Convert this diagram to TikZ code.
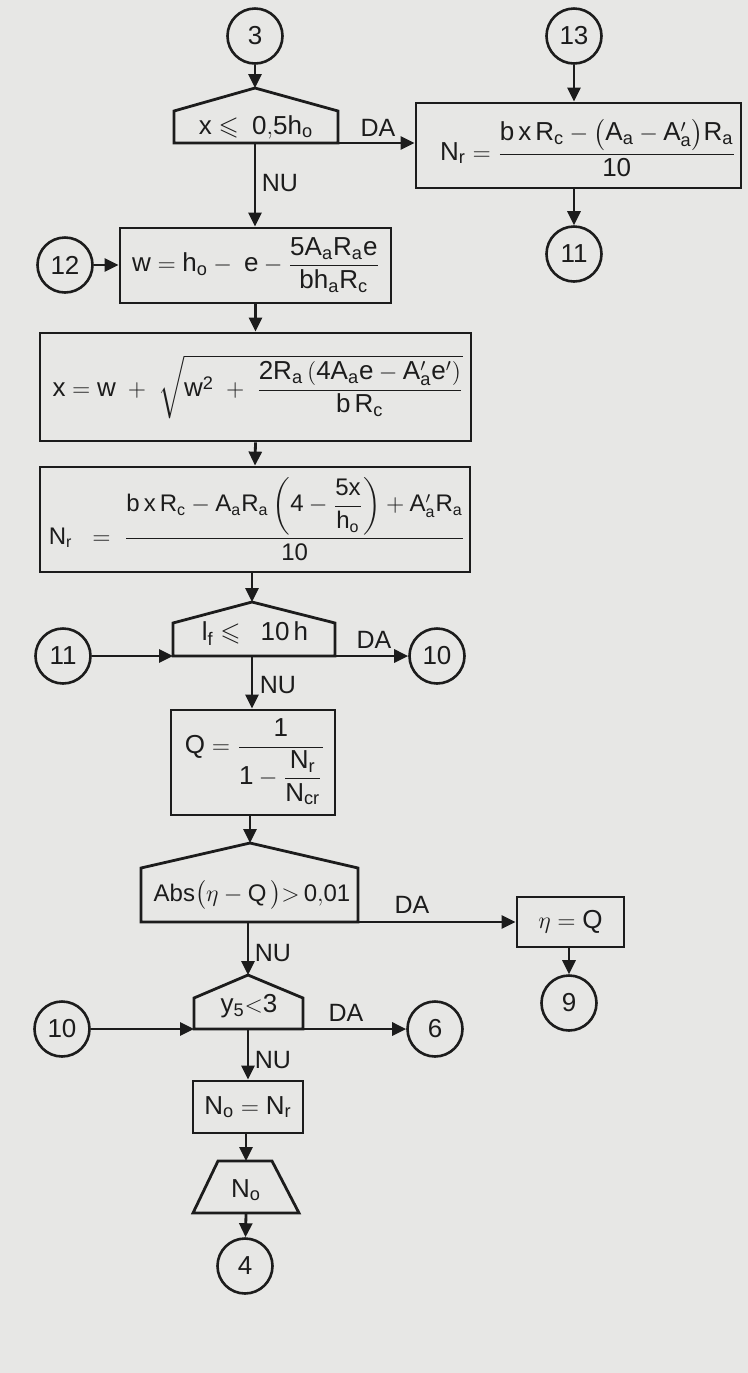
\documentclass[tikz,border=0pt]{standalone}
\usepackage{amsmath,amssymb}
\usepackage{fontspec}
\setmainfont{Liberation Sans}
\usetikzlibrary{arrows.meta}
\definecolor{paper}{RGB}{231,231,229}
\definecolor{ink}{RGB}{28,28,28}
\begin{document}
\begin{tikzpicture}[x=0.5pt,y=-0.5pt,
  every node/.style={font=\fontsize{13}{15}\selectfont, text=ink},
  ln/.style={draw=ink, line width=1.4pt},
  arr/.style={ln, -{Triangle[length=7pt,width=6.5pt]}},
  conn/.style={circle, draw=ink, line width=1.3pt, minimum size=27.5pt, inner sep=0pt, font=\fontsize{13}{15}\selectfont},
  box/.style={rectangle, draw=ink, line width=1.4pt, inner sep=0pt},
  lbl/.style={font=\fontsize{12.5}{14}\selectfont, inner sep=0pt}]

\fill[paper] (0,0) rectangle (748,1373);
\useasboundingbox (0,0) rectangle (748,1373);

% ---- top decision x <= 0.5 h_o
\node[conn] (c3) at (255,36) {3};
\coordinate (h1top) at (255,88);
\coordinate (h1bot) at (255,143);
\coordinate (h1right) at (338,143);
\draw[ln] (174,143) -- (174,111) -- (h1top) -- (338,111) -- (h1right) -- cycle;
\node (h1) at (256,127) {$\mathrm{x \leqslant\; 0{,}5h_o}$};
\draw[arr] (c3) -- (h1top);

% ---- right column N_r box
\node[box, minimum width=162.5pt, minimum height=42.5pt] (nr1) at (578.5,145.5) {};
\node (nr1t) at (588,148) {$\mathrm{N_r = \dfrac{b\,x\,R_c - \bigl(A_a - A'_a\bigr)R_a}{10}}$};
\node[conn] (c13) at (574,36) {13};
\node[conn] (c11r) at (574,254) {11};
\draw[arr] (c13) -- (c13 |- nr1.north);
\draw[arr] (c11r |- nr1.south) -- (c11r);
\draw[arr] (h1right) -- (nr1.west |- h1right);
\node[lbl] (da1) at (378,128) {DA};
\node[lbl] (nu1) at (280,183) {NU};

% ---- w box
\node[box, minimum width=135.5pt, minimum height=37.5pt] (wb) at (255.5,265.5) {};
\node (wt) at (256,265) {$\mathrm{w = h_o -\; e - \dfrac{5A_aR_ae}{bh_aR_c}}$};
\draw[arr] (h1bot) -- (h1bot |- wb.north);
\node[conn] (c12) at (65,265) {12};
\draw[arr] (c12) -- (wb.west |- c12);

% ---- x box
\node[box, minimum width=215.5pt, minimum height=54pt] (xb) at (255.5,387) {};
\node (xt) at (258,387) {$\mathrm{x = w \;+\; \sqrt{w^2 \;+\; \dfrac{2R_a\left(4A_ae - A'_ae'\right)}{b\,R_c}}}$};
\draw[arr] (wb.south) -- (xb.north);

% ---- N_r box (main)
\node[box, minimum width=215pt, minimum height=52.5pt] (nr2) at (255,519.5) {};
\node[font=\fontsize{12}{14}\selectfont] (nr2t) at (257,519) {$\mathrm{N_r \;\;=\; \dfrac{b\,x\,R_c - A_aR_a\left(4 - \dfrac{5x}{h_o}\right) + A'_aR_a}{10}}$};
\draw[arr] (xb.south) -- (nr2.north);

% ---- decision l_f <= 10 h
\coordinate (h2top) at (252,602);
\coordinate (h2bot) at (252,656);
\coordinate (h2left) at (173,656);
\coordinate (h2right) at (335,656);
\draw[ln] (h2left) -- (173,623) -- (h2top) -- (335,623) -- (h2right) -- cycle;
\node (h2) at (255,634) {$\mathrm{l_f \leqslant\;\; 10\,h}$};
\draw[arr] (h2top |- nr2.south) -- (h2top);
\node[conn] (c11l) at (63,656) {11};
\node[conn] (c10r) at (437,656) {10};
\draw[arr] (c11l) -- (h2left);
\draw[arr] (h2right) -- (c10r);
\node[lbl] (da2) at (374,640) {DA};
\node[lbl] (nu2) at (278,685) {NU};

% ---- Q box
\node[box, minimum width=82pt, minimum height=52.5pt] (qb) at (253,762.5) {};
\node (qt) at (255,762) {$\mathrm{Q = \dfrac{1}{1 - \dfrac{N_r}{N_{cr}}}}$};
\draw[arr] (h2bot) -- (h2bot |- qb.north);

% ---- decision Abs(eta - Q) > 0.01
\coordinate (h3top) at (250,843);
\coordinate (h3bot) at (250,922);
\coordinate (h3right) at (358,922);
\draw[ln] (141,922) -- (141,868) -- (h3top) -- (358,868) -- (h3right) -- cycle;
\node[font=\fontsize{12}{14}\selectfont] (h3) at (252,895) {$\mathrm{Abs\bigl(\eta - Q\,\bigr){>}\,0{,}01}$};
\draw[arr] (h3top |- qb.south) -- (h3top);
\node[box, minimum width=53.5pt, minimum height=25pt] (eb) at (570.5,922) {$\eta = \mathrm{Q}$};
\draw[arr] (h3right) -- (eb.west |- h3right);
\node[lbl] (da3) at (412,905) {DA};
\node[conn] (c9) at (569,1003) {9};
\draw[arr] (eb.south -| c9) -- (c9);
\node[lbl] (nu3) at (273,953) {NU};

% ---- decision y_5 < 3
\coordinate (h4top) at (248,975);
\coordinate (h4bot) at (248,1029);
\coordinate (h4left) at (194,1029);
\coordinate (h4right) at (303,1029);
\draw[ln] (h4left) -- (194,998) -- (h4top) -- (303,998) -- (h4right) -- cycle;
\node (h4) at (249,1006) {$\mathrm{y_5{<}3}$};
\draw[arr] (h4top |- h3bot) -- (h4top);
\node[conn] (c10l) at (62,1029) {10};
\node[conn] (c6) at (435,1029) {6};
\draw[arr] (c10l) -- (h4left);
\draw[arr] (h4right) -- (c6);
\node[lbl] (da4) at (346,1013) {DA};
\node[lbl] (nu4) at (273,1060) {NU};

% ---- N_o = N_r box
\node[box, minimum width=55pt, minimum height=26pt] (nob) at (248,1107) {$\mathrm{N_o = N_r}$};
\draw[arr] (h4bot) -- (nob.north);

% ---- output trapezoid
\coordinate (tztop) at (246,1161);
\coordinate (tzbot) at (246,1213);
\draw[ln] (193,1213) -- (218,1161) -- (272,1161) -- (299,1213) -- cycle;
\node (tz) at (246,1190) {$\mathrm{N_o}$};
\draw[arr] (tztop |- nob.south) -- (tztop);
\node[conn] (c4) at (245,1266) {4};
\draw[arr] (tzbot) -- (c4);
\end{tikzpicture}
\end{document}
